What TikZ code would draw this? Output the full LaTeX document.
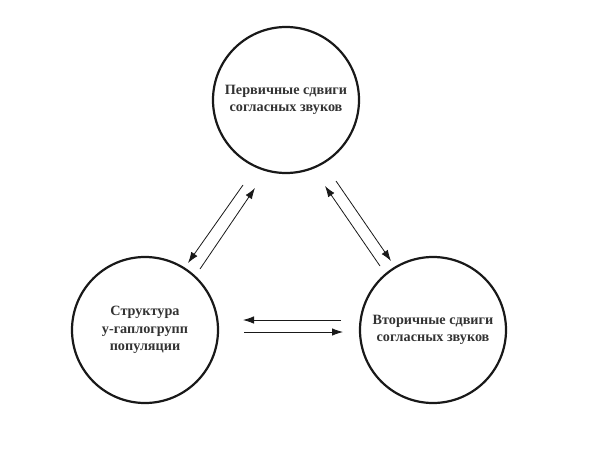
\documentclass[tikz,border=0pt]{standalone}
\usepackage{fontspec}
\setmainfont{Liberation Serif}
\usetikzlibrary{arrows.meta}
\begin{document}
\begin{tikzpicture}[x=1pt,y=-1pt,
  circ/.style={draw=black!90,line width=2.2pt,circle,minimum size=146pt,inner sep=0pt,
    align=center,font=\fontsize{14.2}{17.5}\selectfont\bfseries,text=black!80},
  arr/.style={line width=0.8pt,-{Latex[length=11pt,width=7.5pt]},black!90}]
\useasboundingbox (0,0) rectangle (591,452);
\node[circ] (top) at (286,100) {Первичные сдвиги\\согласных звуков};
\node[circ] (left) at (145,330) {Структура\\у-гаплогрупп\\популяции};
\node[circ] (right) at (433,330) {Вторичные сдвиги\\согласных звуков};
\coordinate (a1) at (243,185); \coordinate (a2) at (188,263);
\coordinate (b1) at (200,269); \coordinate (b2) at (255,188);
\coordinate (c1) at (380,266); \coordinate (c2) at (325,186);
\coordinate (d1) at (336,181); \coordinate (d2) at (391,261);
\coordinate (e1) at (341,320); \coordinate (e2) at (243,320);
\coordinate (f1) at (244,332); \coordinate (f2) at (343,332);
\draw[arr] (a1) -- (a2);
\draw[arr] (b1) -- (b2);
\draw[arr] (c1) -- (c2);
\draw[arr] (d1) -- (d2);
\draw[arr] (e1) -- (e2);
\draw[arr] (f1) -- (f2);
\end{tikzpicture}
\end{document}
